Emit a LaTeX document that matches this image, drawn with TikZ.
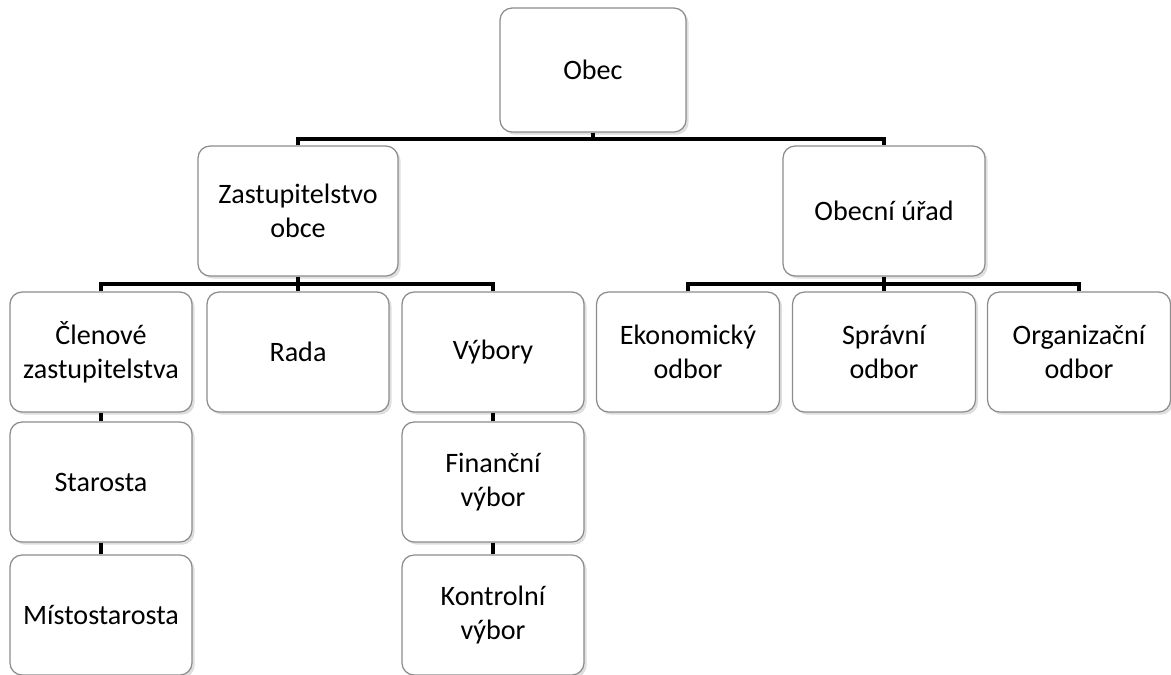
\documentclass[tikz,border=0pt]{standalone}
\usepackage{fontspec}
\setmainfont{Carlito}
\usetikzlibrary{shadows}

\begin{document}
\begin{tikzpicture}[x=0.02cm,y=-0.02cm,
    box/.style={draw=black!45,line width=0.7pt,fill=white,rounded corners=0.24cm,
        align=center,inner sep=0pt,minimum width=3.64cm,minimum height=2.4cm,
        font=\fontsize{16}{19.5}\selectfont,
        drop shadow={opacity=0.25,shadow xshift=1.5pt,shadow yshift=-1.5pt}},
    conn/.style={line width=2.6pt,black}]
                    \useasboundingbox (0,0) rectangle (1171,674);
                    \clip (0,0) rectangle (1171,674);
                    \node[box,minimum width=3.72cm,minimum height=2.48cm] (obec) at (593,70) {Obec};
                    \node[box,minimum width=4cm,minimum height=2.6cm] (zast) at (298,211) {Zastupitelstvo\\obce};
                    \node[box,minimum width=4.04cm,minimum height=2.6cm] (urad) at (884,211) {Obecní úřad};
                    \node[box] (clen) at (101,352) {Členové\\zastupitelstva};
                    \node[box] (rada) at (298,352) {Rada};
                    \node[box] (vybory) at (493,352) {Výbory};
                    \node[box,minimum width=3.66cm] (ekon) at (688,352) {Ekonomický\\odbor};
                    \node[box,minimum width=3.66cm] (sprav) at (884,352) {Správní\\odbor};
                    \node[box,minimum width=3.66cm] (org) at (1079,352) {Organizační\\odbor};
                    \node[box] (starosta) at (101,482) {Starosta};
                    \node[box] (misto) at (101,615) {Místostarosta};
                    \node[box] (financni) at (493,482) {Finanční\\výbor};
                    \node[box] (kontrolni) at (493,615) {Kontrolní\\výbor};
                    \coordinate (bar1) at (593,139);
                    \coordinate (bar2) at (298,284);
                    \coordinate (bar3) at (884,284);
                    \draw[conn] (obec.south) -- (bar1);
                    \draw[conn] (zast.north) |- (bar1) -| (urad.north);
                    \draw[conn] (zast.south) -- (rada.north);
                    \draw[conn] (clen.north) |- (bar2) -| (vybory.north);
                    \draw[conn] (urad.south) -- (sprav.north);
                    \draw[conn] (ekon.north) |- (bar3) -| (org.north);
                    \draw[conn] (clen.south) -- (starosta.north);
                    \draw[conn] (starosta.south) -- (misto.north);
                    \draw[conn] (vybory.south) -- (financni.north);
                    \draw[conn] (financni.south) -- (kontrolni.north);
                \end{tikzpicture}
\end{document}
